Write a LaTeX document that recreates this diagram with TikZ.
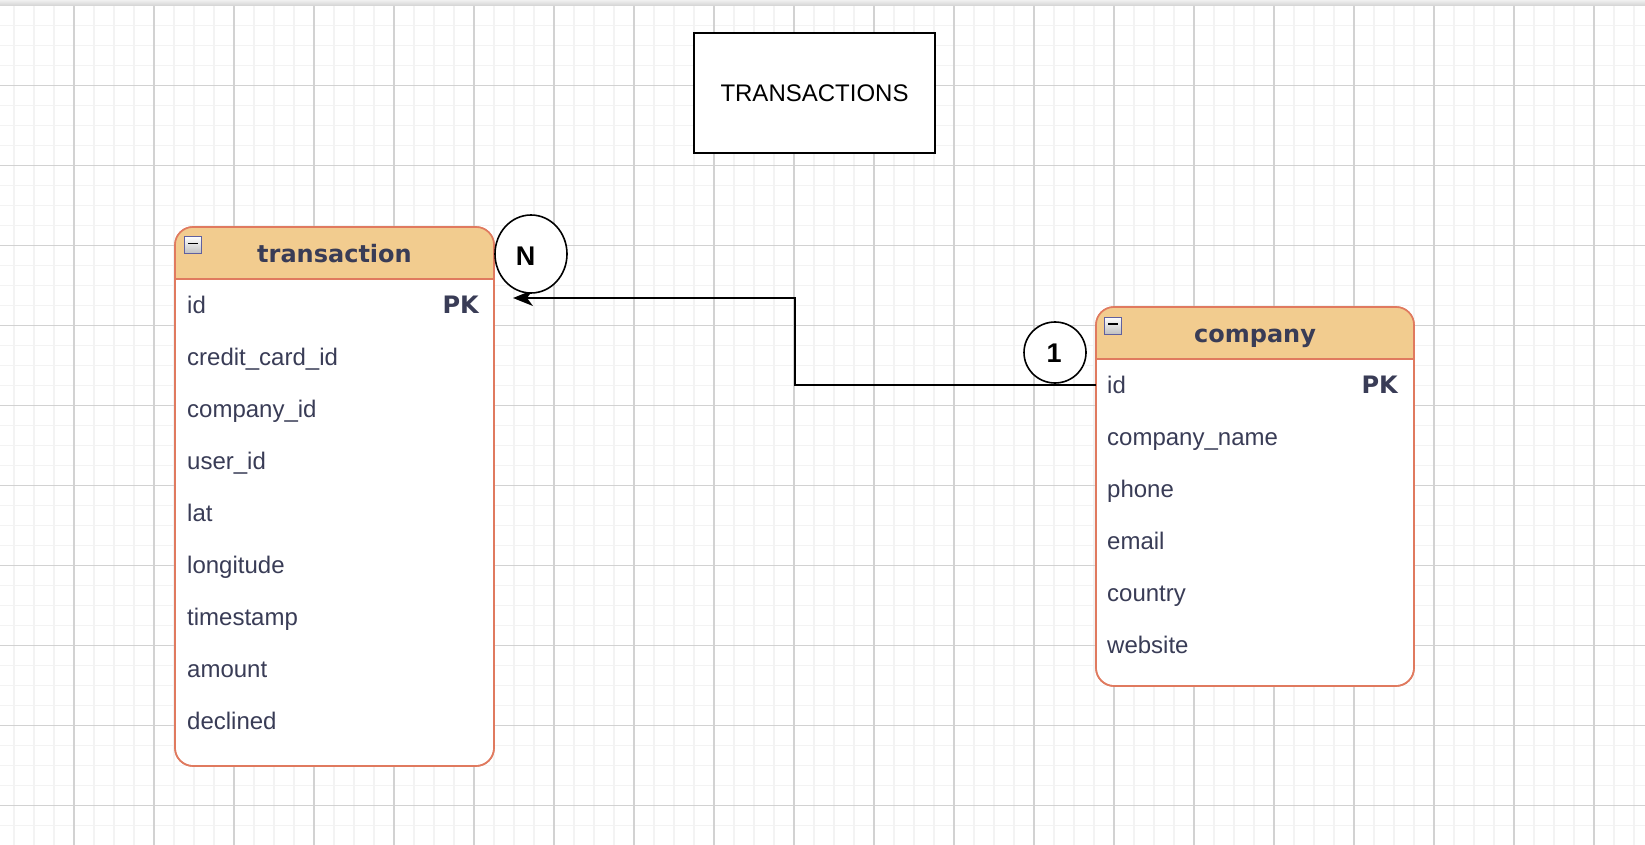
\documentclass[tikz,border=0pt]{standalone}
\usepackage{fontspec}
\setmainfont{Liberation Sans}
\newfontfamily\headfont{DejaVu Sans}
\usetikzlibrary{arrows.meta,shapes.geometric,positioning}
\definecolor{tblfill}{HTML}{F2CC8F}
\definecolor{tblline}{HTML}{E07A5F}
\definecolor{tbltext}{HTML}{393C56}
\definecolor{gridmin}{HTML}{F3F3F3}
\definecolor{gridmaj}{HTML}{D2D2D2}
\tikzset{
  gridminor/.style={gridmin,line width=1.6pt},
  gridmajor/.style={gridmaj,line width=1.1pt},
  tablebox/.style={draw=tblline,line width=1.6pt,fill=white,rounded corners=18pt,outer sep=0pt,anchor=north west},
  field/.style={anchor=west,inner sep=0pt,text height=17.2pt,text depth=0pt,text=tbltext,font=\fontsize{24}{28}\selectfont},
  keytag/.style={anchor=east,inner sep=0pt,text height=17.4pt,text depth=0pt,text=tbltext,font=\fontsize{24}{28}\selectfont\headfont\bfseries},
  tabletitle/.style={inner sep=0pt,text height=18pt,text depth=0pt,text=tbltext,font=\fontsize{24}{28}\selectfont\headfont\bfseries},
  card/.style={ellipse,draw,line width=1.6pt,fill=white,inner sep=0pt,font=\fontsize{27}{30}\selectfont\bfseries},
  cardtext/.style={inner sep=0pt,text height=19pt,text depth=0pt,font=\fontsize{27}{30}\selectfont\bfseries},
  minusbox/.style={draw=gray!75!blue,line width=1pt,top color=white,bottom color=gray!50,minimum size=17pt,inner sep=0pt},
  titlebox/.style={draw,line width=1.8pt,fill=white,minimum width=241pt,minimum height=120pt,inner sep=0pt,text height=17.2pt,text depth=0pt,font=\fontsize{24}{28}\selectfont}
}
\begin{document}
\begin{tikzpicture}[x=1pt,y=-1pt]
  \useasboundingbox (0,0) rectangle (1645,845);
  \fill[white] (0,0) rectangle (1645,845);
  \foreach \gx in {14,34,...,1644} \draw[gridminor] (\gx,0)--(\gx,845);
  \foreach \gy in {25.5,45.5,...,845} \draw[gridminor] (0,\gy)--(1645,\gy);
  \foreach \gx in {74,154,...,1644} \draw[gridmajor] (\gx,0)--(\gx,845);
  \foreach \gy in {85.5,165.5,...,845} \draw[gridmajor] (0,\gy)--(1645,\gy);
  \shade[top color=gray!12,bottom color=gray!35] (0,0) rectangle (1645,6);

  \node[titlebox] (title) at (814.5,93) {TRANSACTIONS};

  \node[tablebox,minimum width=319pt,minimum height=539pt] (trans) at (175,227) {};
  \begin{scope}
    \clip[rounded corners=18pt] (trans.north west) rectangle (trans.south east);
    \fill[tblfill] (trans.north west) rectangle ([yshift=-52pt]trans.north east);
  \end{scope}
  \draw[tblline,line width=1.6pt] ([yshift=-52pt]trans.north west) -- ([yshift=-52pt]trans.north east);
  \draw[tblline,line width=1.6pt,rounded corners=18pt] (trans.north west) rectangle (trans.south east);
  \node[minusbox] (trans-min) at (193,245) {};
  \draw[line width=1.3pt] ([xshift=-5pt,yshift=1.5pt]trans-min.center) -- ([xshift=5pt,yshift=1.5pt]trans-min.center);
  \node[tabletitle] (trans-title) at (334.5,253) {transaction};
  \foreach \f [count=\i from 0] in {id,credit\_card\_id,company\_id,user\_id,lat,longitude,timestamp,amount,declined}
    \node[field] (trans-\i) at (187,{305+52*\i}) {\f};
  \node[keytag] (trans-pk) at (479,305) {PK};

  \node[tablebox,minimum width=318pt,minimum height=379pt] (comp) at (1096,307) {};
  \begin{scope}
    \clip[rounded corners=18pt] (comp.north west) rectangle (comp.south east);
    \fill[tblfill] (comp.north west) rectangle ([yshift=-52pt]comp.north east);
  \end{scope}
  \draw[tblline,line width=1.6pt] ([yshift=-52pt]comp.north west) -- ([yshift=-52pt]comp.north east);
  \draw[tblline,line width=1.6pt,rounded corners=18pt] (comp.north west) rectangle (comp.south east);
  \node[minusbox] (comp-min) at (1113,325.5) {};
  \draw[line width=1.3pt] ([xshift=-5pt,yshift=1.5pt]comp-min.center) -- ([xshift=5pt,yshift=1.5pt]comp-min.center);
  \node[tabletitle] (comp-title) at (1255,333) {company};
  \foreach \f [count=\i from 0] in {id,company\_name,phone,email,country,website}
    \node[field] (comp-\i) at (1107,{385+52*\i}) {\f};
  \node[keytag] (comp-pk) at (1398,385) {PK};

  \coordinate (comp-src) at (comp.west |- comp-0.center);
  \coordinate (trans-dst) at (513,298);
  \coordinate (bend) at (795,298);
  \draw[-{Stealth[length=20pt,width=16pt,inset=6pt]},line width=1.6pt] (comp-src) -| (bend) -- (trans-dst);

  \node[card,minimum width=72pt,minimum height=78pt] (card-n) at (531,254) {};
  \node[cardtext] (card-n-txt) at (525.5,256) {N};
  \node[card,minimum width=62pt,minimum height=61pt] (card-1) at (1055,352.5) {};
  \node[cardtext] (card-1-txt) at (1054,352.5) {1};
\end{tikzpicture}
\end{document}
